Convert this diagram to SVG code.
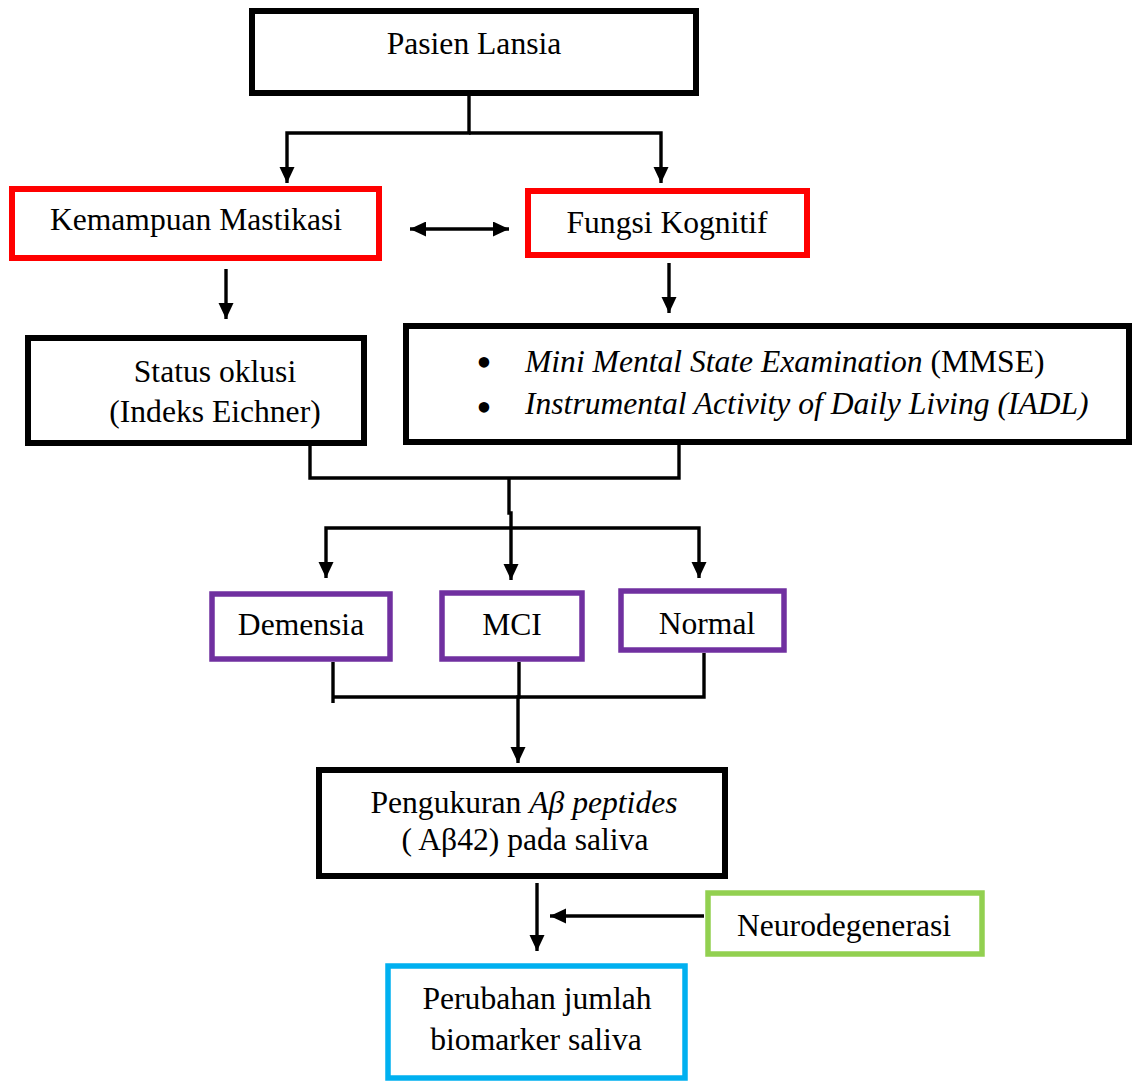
<svg xmlns="http://www.w3.org/2000/svg" width="1139" height="1082" viewBox="0 0 1139 1082">
<style>
  text { font-family: "Liberation Serif", "Times New Roman", serif; font-size: 31.6px; fill: #000; }
  .c { text-anchor: middle; }
  .bul { font-size: 44px; }
  .box { fill: #fff; stroke-width: 6; }
  .blk { stroke: #000; }
  .red { stroke: #ff0000; }
  .pur { stroke: #7030a0; stroke-width: 5.5; }
  .grn { stroke: #92d050; stroke-width: 5.5; }
  .blu { stroke: #00b0f0; stroke-width: 5.5; }
  .ln { fill: none; stroke: #000; stroke-width: 3.4; }
  .arr { marker-end: url(#ah); }
</style>
<defs>
  <marker id="ah" markerUnits="userSpaceOnUse" markerWidth="17" markerHeight="16" refX="16" refY="7.5" orient="auto">
    <path d="M0,0 L16,7.5 L0,15 z" fill="#000"/>
  </marker>
  <marker id="ahs" markerUnits="userSpaceOnUse" markerWidth="17" markerHeight="16" refX="0" refY="7.5" orient="auto">
    <path d="M16,0 L0,7.5 L16,15 z" fill="#000"/>
  </marker>
</defs>
<rect width="1139" height="1082" fill="#fff"/>

<g id="connectors">
  <path class="ln arr" d="M469,96 V133 H287 V183"/>
  <path class="ln arr" d="M469,133 H661 V183"/>
  <path class="ln" d="M410,229 H509" marker-start="url(#ahs)" marker-end="url(#ah)"/>
  <path class="ln arr" d="M226,269 V319"/>
  <path class="ln arr" d="M669,263 V313"/>
  <path class="ln" d="M310,446 V478 H679 V445"/>
  <path class="ln arr" d="M509,478 V513 H511 V580"/>
  <path class="ln arr" d="M510,528 H326 V578"/>
  <path class="ln arr" d="M510,528 H699 V578"/>
  <path class="ln" d="M333,662 V703"/>
  <path class="ln" d="M333,697 H704 V653"/>
  <path class="ln arr" d="M519,662 V697 H518 V763"/>
  <path class="ln arr" d="M537,883 V951"/>
  <path class="ln arr" d="M704,916 H550"/>
</g>

<g id="pasien">
  <rect class="box blk" x="252" y="11" width="444" height="82"/>
  <text class="c" x="474" y="54">Pasien Lansia</text>
</g>
<g id="mastikasi">
  <rect class="box red" x="12" y="189" width="367" height="69"/>
  <text class="c" x="196" y="230">Kemampuan Mastikasi</text>
</g>
<g id="kognitif">
  <rect class="box red" x="528" y="191" width="279" height="64"/>
  <text class="c" x="667" y="233">Fungsi Kognitif</text>
</g>
<g id="oklusi">
  <rect class="box blk" x="28" y="338" width="336" height="105"/>
  <text class="c" x="215" y="382">Status oklusi</text>
  <text class="c" x="215" y="422">(Indeks Eichner)</text>
</g>
<g id="tes">
  <rect class="box blk" x="406" y="326" width="723" height="116"/>
  <text class="c bul" x="484" y="377">•</text>
  <text class="c bul" x="484" y="422">•</text>
  <text x="525" y="372"><tspan font-style="italic">Mini Mental State Examination</tspan> (MMSE)</text>
  <text x="525" y="414" font-style="italic">Instrumental Activity of Daily Living (IADL)</text>
</g>
<g id="demensia">
  <rect class="box pur" x="212" y="594" width="178" height="65"/>
  <text class="c" x="301" y="635">Demensia</text>
</g>
<g id="mci">
  <rect class="box pur" x="442" y="593" width="140" height="66"/>
  <text class="c" x="512" y="635">MCI</text>
</g>
<g id="normal">
  <rect class="box pur" x="621" y="591" width="163" height="59"/>
  <text class="c" x="707" y="634">Normal</text>
</g>
<g id="pengukuran">
  <rect class="box blk" x="319" y="770" width="406" height="106"/>
  <text class="c" x="524" y="813">Pengukuran <tspan font-style="italic">Aβ peptides</tspan></text>
  <text class="c" x="525" y="850">( Aβ42) pada saliva</text>
</g>
<g id="neuro">
  <rect class="box grn" x="708" y="893" width="274" height="61"/>
  <text class="c" x="844" y="936">Neurodegenerasi</text>
</g>
<g id="perubahan">
  <rect class="box blu" x="388" y="966" width="297" height="112"/>
  <text class="c" x="537" y="1009">Perubahan jumlah</text>
  <text class="c" x="536" y="1050">biomarker saliva</text>
</g>
</svg>
